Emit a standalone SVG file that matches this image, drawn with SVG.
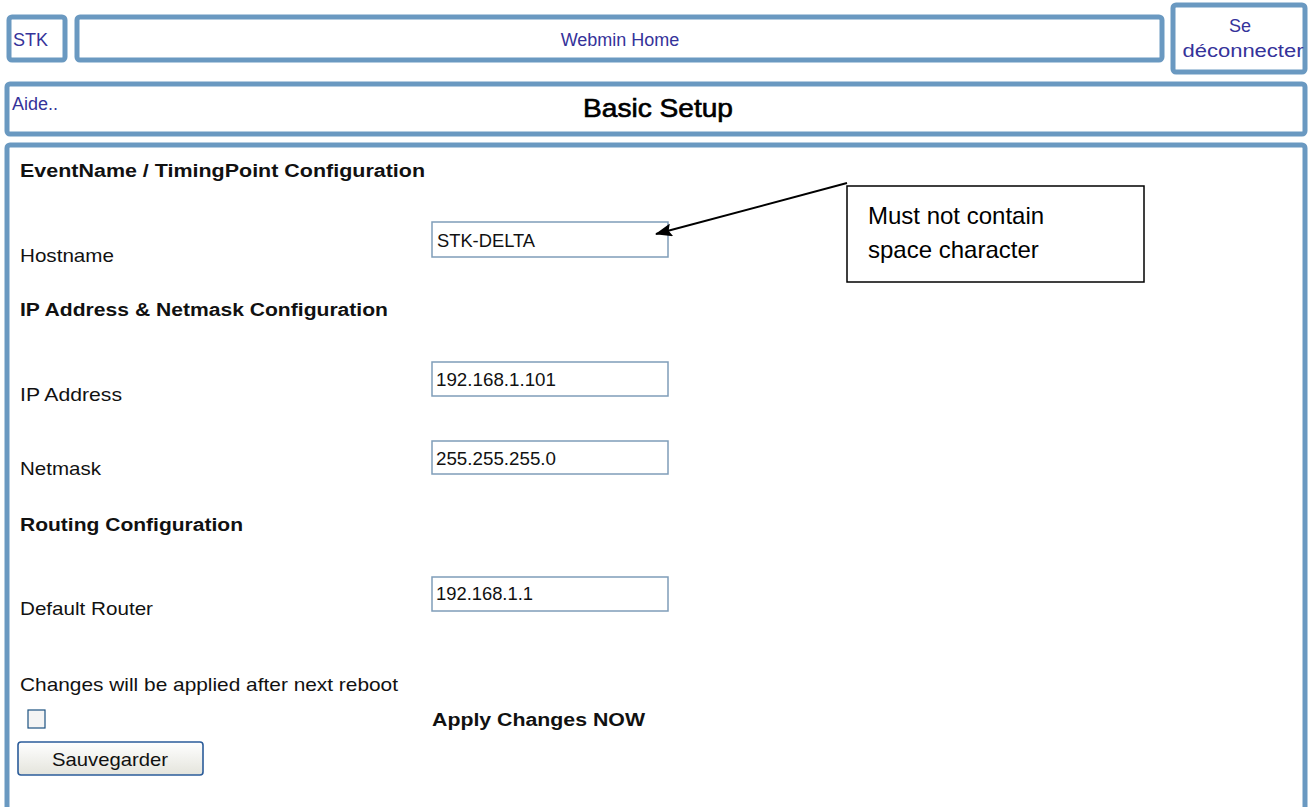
<svg xmlns="http://www.w3.org/2000/svg" width="1309" height="807" viewBox="0 0 1309 807">
<style>
.frame{fill:#fff;stroke:#6a99c1;stroke-width:5}
.link{font-family:"Liberation Sans",Arial,sans-serif;font-size:18px;fill:#35339a}
.lbl{font-family:"Liberation Sans",Arial,sans-serif;font-size:19px;fill:#111}
.hdr{font-family:"Liberation Sans",Arial,sans-serif;font-size:18px;font-weight:bold;fill:#111}
.inp{fill:#fff;stroke:#7f9db9;stroke-width:1.5}
.note{font-family:"Liberation Sans",Arial,sans-serif;font-size:24px;fill:#000}
</style>
<defs>
<marker id="ah" markerWidth="17" markerHeight="13" refX="16" refY="6.5" orient="auto" markerUnits="userSpaceOnUse" viewBox="0 0 17 13">
<path d="M0,0 L17,6.5 L0,13 L3,6.5 z" fill="#000"/>
</marker>
<linearGradient id="btn" x1="0" y1="0" x2="0" y2="1">
<stop offset="0" stop-color="#ffffff"/><stop offset="1" stop-color="#e4e4dc"/>
</linearGradient>
</defs>
<rect width="1309" height="807" fill="#fff"/>
<g id="stk"><rect class="frame" x="9" y="17" width="56" height="43" rx="3"/><text class="link" x="13" y="46">STK</text></g>
<g id="webmin-home"><rect class="frame" x="77" y="17" width="1085" height="43" rx="3"/><text class="link" x="620" y="46" text-anchor="middle">Webmin Home</text></g>
<g id="logout"><rect class="frame" x="1173" y="5" width="132" height="67" rx="3"/><text class="link" x="1240" y="32" text-anchor="middle">Se</text><text class="link" x="1243" y="57" text-anchor="middle" textLength="121" lengthAdjust="spacingAndGlyphs">déconnecter</text></g>
<g id="title-bar"><rect class="frame" x="7" y="84" width="1298" height="50" rx="3"/><text class="link" x="12" y="110">Aide..</text><text x="658" y="117" text-anchor="middle" font-family="'Liberation Sans',Arial,sans-serif" font-size="25" fill="#000" stroke="#000" stroke-width="0.6" textLength="150" lengthAdjust="spacingAndGlyphs">Basic Setup</text></g>
<g id="main"><rect class="frame" x="7" y="145" width="1298" height="680" rx="3"/>
<text class="hdr" x="20" y="177" textLength="405" lengthAdjust="spacingAndGlyphs">EventName / TimingPoint Configuration</text>
<text class="lbl" x="20" y="262" textLength="94" lengthAdjust="spacingAndGlyphs">Hostname</text>
<rect class="inp" x="432" y="222" width="236" height="35"/>
<text class="lbl" x="437" y="247" textLength="98" lengthAdjust="spacingAndGlyphs">STK-DELTA</text>
<text class="hdr" x="20" y="316" textLength="368" lengthAdjust="spacingAndGlyphs">IP Address &amp; Netmask Configuration</text>
<text class="lbl" x="20" y="401" textLength="102" lengthAdjust="spacingAndGlyphs">IP Address</text>
<rect class="inp" x="432" y="362" width="236" height="34"/>
<text class="lbl" x="436" y="386" textLength="120" lengthAdjust="spacingAndGlyphs">192.168.1.101</text>
<text class="lbl" x="20" y="475" textLength="81" lengthAdjust="spacingAndGlyphs">Netmask</text>
<rect class="inp" x="432" y="441" width="236" height="33"/>
<text class="lbl" x="436" y="465" textLength="120" lengthAdjust="spacingAndGlyphs">255.255.255.0</text>
<text class="hdr" x="20" y="531" textLength="223" lengthAdjust="spacingAndGlyphs">Routing Configuration</text>
<text class="lbl" x="20" y="615" textLength="133" lengthAdjust="spacingAndGlyphs">Default Router</text>
<rect class="inp" x="432" y="577" width="236" height="34"/>
<text class="lbl" x="436" y="600" textLength="97" lengthAdjust="spacingAndGlyphs">192.168.1.1</text>
<text class="lbl" x="20" y="691" textLength="378" lengthAdjust="spacingAndGlyphs">Changes will be applied after next reboot</text>
<rect x="28" y="710" width="17" height="18" fill="#f4f4f4" stroke="#1c5180" stroke-width="1.2"/>
<text class="hdr" x="432" y="726" textLength="213" lengthAdjust="spacingAndGlyphs">Apply Changes NOW</text>
<rect x="18" y="742" width="185" height="33" rx="3" fill="url(#btn)" stroke="#2b5c9a" stroke-width="1.6"/>
<text class="lbl" x="110" y="766" text-anchor="middle" textLength="116" lengthAdjust="spacingAndGlyphs">Sauvegarder</text>
</g>
<g id="note"><rect x="847" y="186" width="297" height="96" fill="#fff" stroke="#000" stroke-width="1.5"/>
<text class="note" x="868" y="224">Must not contain</text><text class="note" x="868" y="258">space character</text></g>
<g id="connectors"><line x1="847" y1="183" x2="656" y2="234" stroke="#000" stroke-width="2" marker-end="url(#ah)"/></g>
</svg>
